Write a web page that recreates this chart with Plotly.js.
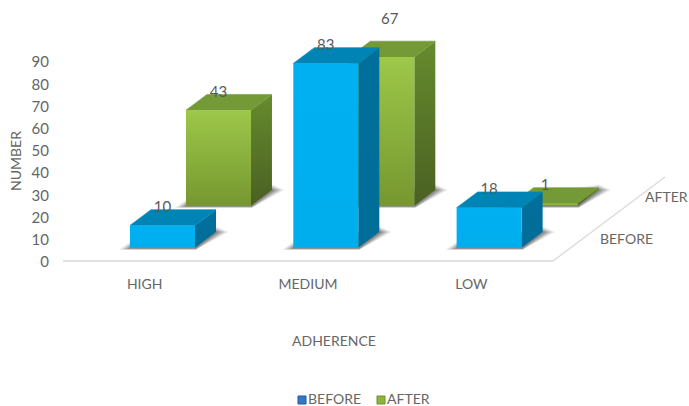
<!DOCTYPE html>
<html>
<head>
<meta charset="utf-8">
<script src="https://cdn.plot.ly/plotly-3.0.1.min.js"></script>
<style>html,body{margin:0;padding:0;background:#fff}#chart{width:689px;height:406px}</style>
</head>
<body>
<div id="chart"></div>
<script>
// Adherence counts before and after, per adherence level
const categories = ['HIGH', 'MEDIUM', 'LOW'];
const seriesNames = ['BEFORE', 'AFTER'];
const beforeValues = [10, 83, 18];
const afterValues = [43, 67, 1];
const valueTicks = [0, 10, 20, 30, 40, 50, 60, 70, 80, 90];

// Canvas size, the axis frame in pixels, and the oblique floor projection.
// The visible axes live on x/y; the boxes are drawn on x2/y2, which span the
// whole canvas at the same scale so tall boxes and labels are never clipped.
const W = 689, H = 406;
const FRAME = {l: 63, r: 605, t: 59, b: 261};
const TICK_DROP = 1;
const CAT_PX = 163.33, VAL_PX = 2.22;
const ROW_DX = 56 / CAT_PX, ROW_DY = 42 / VAL_PX;
const BAR_HALF = 0.199, ROW_FRONT = 0.318, ROW_BACK = 0.693;
const INK = '#666666', FONT = 'Lato, Carlito, sans-serif';

const proj = (cat, row, val, dx = 0, dy = 0) => [
  cat + row * ROW_DX + dx / CAT_PX,
  val + row * ROW_DY - dy / VAL_PX
];
const onOverlay = {xaxis: 'x2', yaxis: 'y2', cliponaxis: false, hoverinfo: 'skip', showlegend: false};

function polygon(points, fill, extra) {
  return Object.assign({
    type: 'scatter', mode: 'lines',
    x: points.map(p => p[0]).concat(points[0][0]),
    y: points.map(p => p[1]).concat(points[0][1]),
    fill: 'toself', fillcolor: fill, line: {width: 0, color: fill}
  }, onOverlay, extra || {});
}

const grad = (top, bottom) => ({
  fillgradient: {type: 'vertical', colorscale: [[0, bottom], [1, top]]}
});

const styles = [
  {front: ['#00B0F0', '#00AEEE'], top: '#0084B6', side: ['#006F9B', '#006E98']},
  {front: ['#9DC849', '#76972F'], top: '#739A36', side: ['#668B2E', '#4A6022']}
];

// Soft contact shadow on the floor around one box
function shadow(c, r) {
  const f = r + ROW_FRONT, b = r + ROW_BACK, L = c + 0.5 - BAR_HALF, R = c + 0.5 + BAR_HALF;
  return [[11, 0.12], [8, 0.17], [5, 0.22], [2, 0.28]].map(([g, a]) => polygon([
    proj(L, f, 0, -g, 1 + g * 0.1),
    proj(R, f, 0, 1, 1 + g * 0.1),
    proj(R, b, 0, g + 1, 0),
    proj(R, b, 0, 0, -g * 0.5),
    proj(L, f, 0, 0, -g * 0.5)
  ], `rgba(60,60,60,${a})`));
}

// One box: side, top and front faces
function box(c, r, v, st) {
  const f = r + ROW_FRONT, b = r + ROW_BACK, L = c + 0.5 - BAR_HALF, R = c + 0.5 + BAR_HALF;
  return [
    polygon([proj(R, f, 0), proj(R, b, 0), proj(R, b, v), proj(R, f, v)], st.side[0],
      grad(st.side[0], st.side[1])),
    polygon([proj(L, f, v), proj(R, f, v), proj(R, b, v), proj(L, b, v)], st.top,
      {line: {width: 0.6, color: st.top}}),
    polygon([proj(L, f, 0), proj(R, f, 0), proj(R, f, v), proj(L, f, v)], st.front[0],
      grad(st.front[0], st.front[1]))
  ];
}

const rows = [beforeValues, afterValues];
const traces = [];

// Primary subplot holder so the tick axes stay on screen
traces.push({type: 'scatter', mode: 'markers', x: [null], y: [null], hoverinfo: 'skip', showlegend: false});

rows.forEach((vals, r) => vals.forEach((v, c) => traces.push(...shadow(c, r))));

// Floor edges
const floor = [proj(0, 0, 0), proj(3, 0, 0), proj(3, 2, 0)];
traces.push(Object.assign({
  type: 'scatter', mode: 'lines',
  x: floor.map(p => p[0]), y: floor.map(p => p[1]), line: {color: '#d9d9d9', width: 1.3}
}, onOverlay));

// Back row first so the front row overlaps it
[1, 0].forEach(r => rows[r].forEach((v, c) => traces.push(...box(c, r, v, styles[r]))));

// Value labels sit just above each front face
rows.forEach((vals, r) => {
  const nudge = vals.map(v => (v === 67 ? [8, -20] : [0, 0]));
  const pts = vals.map((v, c) => proj(c + 0.5, r + ROW_FRONT, v, nudge[c][0], -17 + nudge[c][1]));
  traces.push(Object.assign({
    type: 'scatter', mode: 'text',
    x: pts.map(p => p[0]), y: pts.map(p => p[1]),
    text: vals.map(String), textposition: 'middle center',
    textfont: {family: FONT, size: 15, color: '#595959'}
  }, onOverlay));
});

// Depth axis labels beside the right floor edge
const depthPts = seriesNames.map((_, r) => proj(3, r + 0.5, 0, r === 0 ? 19 : 8));
traces.push(Object.assign({
  type: 'scatter', mode: 'text',
  x: depthPts.map(p => p[0]), y: depthPts.map(p => p[1]),
  text: seriesNames, textposition: 'middle right',
  textfont: {family: FONT, size: 14, color: INK}
}, onOverlay));

// Key along the bottom edge
const keyColors = ['#3579C4', '#8DB53A'];
const keyEdges = ['#24589A', '#6E8F2C'];
const keyPx = [302, 381];
seriesNames.forEach((name, i) => {
  traces.push(Object.assign({
    type: 'scatter', mode: 'markers+text', name: name,
    x: [(keyPx[i] - FRAME.l) / CAT_PX], y: [(FRAME.b - 400) / VAL_PX],
    text: [name], textposition: 'middle right',
    textfont: {family: FONT, size: 14, color: INK},
    marker: {symbol: 'square', size: 8, color: keyColors[i], line: {width: 1, color: keyEdges[i]}}
  }, onOverlay));
});

const layout = {
  width: W, height: H,
  margin: {l: 0, r: 0, t: 0, b: 0},
  paper_bgcolor: '#fff', plot_bgcolor: 'rgba(0,0,0,0)',
  showlegend: false,
  font: {family: FONT, size: 14, color: INK},
  xaxis: {
    domain: [FRAME.l / W, FRAME.r / W],
    range: [0, (FRAME.r - FRAME.l) / CAT_PX],
    fixedrange: true, showgrid: false, zeroline: false, showline: false,
    tickmode: 'array', tickvals: categories.map((_, i) => i + 0.5), ticktext: categories,
    ticks: '', ticklabelstandoff: 12,
    tickfont: {family: FONT, size: 14, color: INK},
    title: {text: 'ADHERENCE', standoff: 45, font: {family: FONT, size: 14, color: INK}}
  },
  yaxis: {
    domain: [1 - (FRAME.b + TICK_DROP) / H, 1 - (FRAME.t + TICK_DROP) / H],
    range: [0, (FRAME.b - FRAME.t) / VAL_PX],
    fixedrange: true, showgrid: false, zeroline: false, showline: false,
    tickmode: 'array', tickvals: valueTicks,
    ticks: '', ticklabelstandoff: 13,
    tickfont: {family: FONT, size: 15, color: INK},
    title: {text: 'NUMBER', standoff: 6, font: {family: FONT, size: 14, color: INK}}
  },
  xaxis2: {
    domain: [0, 1], anchor: 'y2', visible: false, fixedrange: true,
    range: [-FRAME.l / CAT_PX, (W - FRAME.l) / CAT_PX]
  },
  yaxis2: {
    domain: [0, 1], anchor: 'x2', visible: false, fixedrange: true,
    range: [(FRAME.b - H) / VAL_PX, FRAME.b / VAL_PX]
  }
};

Plotly.newPlot('chart', traces, layout, {displayModeBar: false, staticPlot: true});
</script>
</body>
</html>
